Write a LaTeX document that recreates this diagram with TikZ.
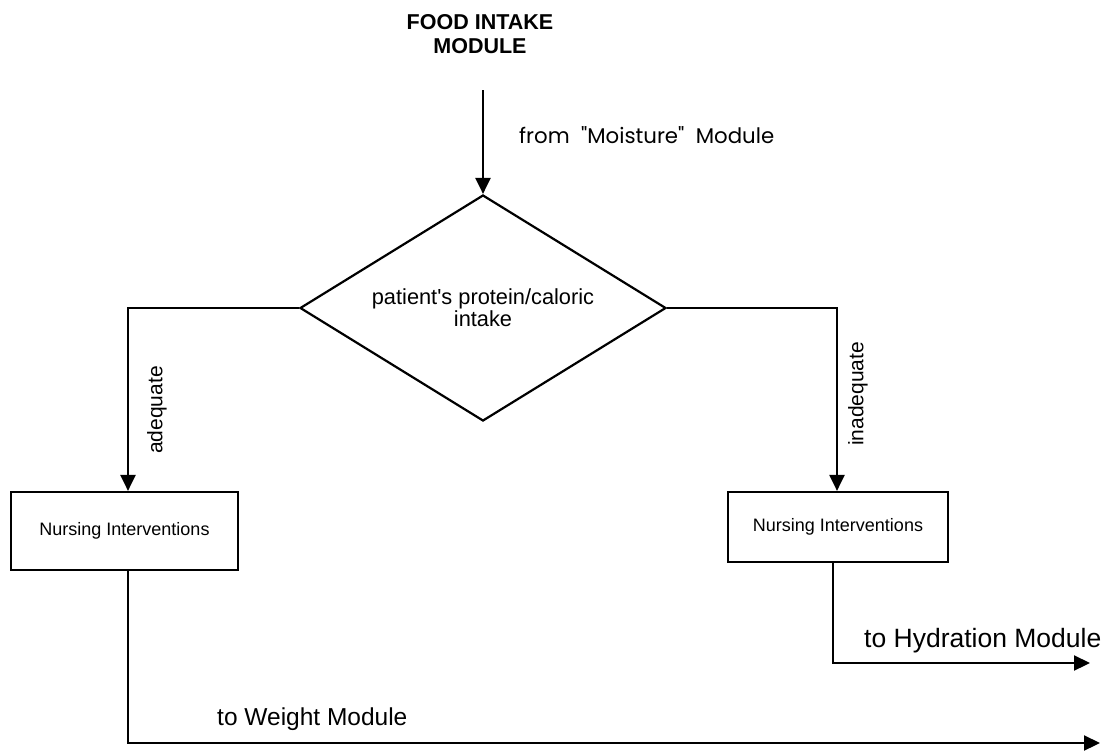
\documentclass[tikz,border=0pt]{standalone}
\usepackage{fontspec}
\setmainfont{Liberation Sans}
\newfontfamily\geo{Poppins}
\usetikzlibrary{shapes.geometric,arrows.meta}
\begin{document}
\begin{tikzpicture}[x=1pt,y=-1pt,
  line/.style={line width=2pt},
  arr/.style={line width=2.2pt,-{Triangle[length=16pt,width=15pt]}},
  box/.style={draw,line width=2.2pt,inner sep=0pt,font=\fontsize{18}{20}\selectfont},
  lbl/.style={inner sep=0pt,font=\fontsize{21}{24}\selectfont},
  big/.style={inner sep=0pt,font=\fontsize{25}{28}\selectfont}]
\useasboundingbox (0,0) rectangle (1106,750);

% heading
\node[inner sep=0pt,align=center,font=\bfseries\fontsize{21.5}{24}\selectfont] (title) at (480,34) {FOOD INTAKE\\MODULE};

% entry from the moisture module
\coordinate (in) at (483,90);
\node[inner sep=0pt,anchor=base west,font=\geo\fontsize{21.3}{24}\selectfont] (from) at (519,143) {from\ \ "Moisture"\ \ Module};

% decision
\node[diamond,draw,line width=2.2pt,aspect=1.62,minimum width=366pt,minimum height=226pt,inner sep=0pt,
      align=center,font=\fontsize{21.8}{22}\selectfont] (dec) at (483,308) {patient\textquotesingle s protein/caloric\\intake};
\draw[arr] (in) -- (dec.north);

% nursing boxes
\node[box,minimum width=227pt,minimum height=78pt] (lbox) at (124.5,531) {Nursing Interventions};
\node[box,minimum width=220pt,minimum height=70pt] (rbox) at (838,527) {Nursing Interventions};

\draw[arr] (dec.west) -| ([xshift=3.5pt]lbox.north);
\draw[arr] (dec.east) -| ([xshift=-1pt]rbox.north);
\node[lbl,rotate=90] (adq) at (157,410) {adequate};
\node[lbl,rotate=90] (inadq) at (858,394) {inadequate};

% exits
\coordinate (wend) at (1100,743);
\coordinate (hend) at (1090,663);
\draw[arr] ([xshift=3.5pt]lbox.south) |- (wend);
\draw[arr] ([xshift=-5pt]rbox.south) |- (hend);
\node[big,anchor=base west,font=\fontsize{24.5}{28}\selectfont] (wlbl) at (217,725) {to Weight Module};
\node[big,anchor=base west,font=\fontsize{26.5}{30}\selectfont] (hlbl) at (864,647) {to Hydration Module};
\end{tikzpicture}
\end{document}
